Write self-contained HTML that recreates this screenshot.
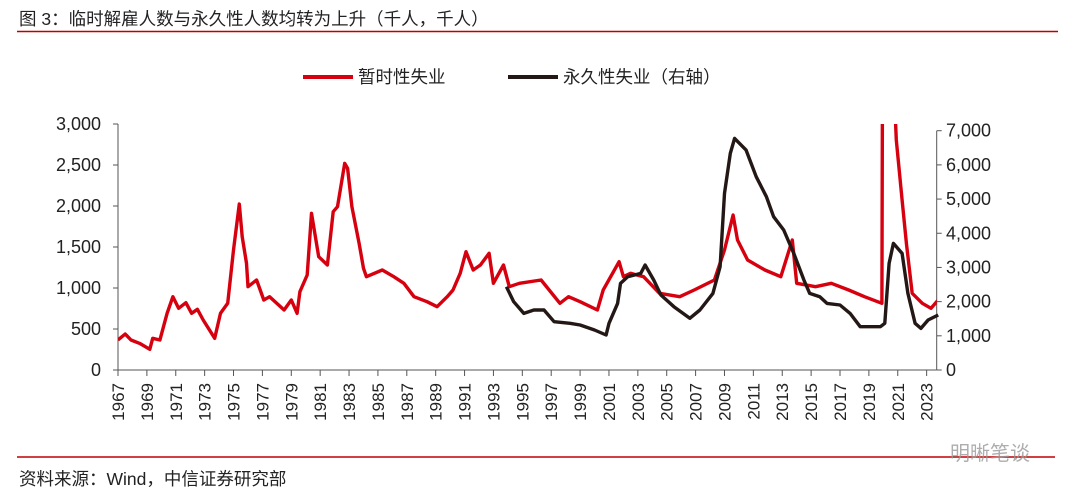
<!DOCTYPE html>
<html><head><meta charset="utf-8">
<style>
body{margin:0;background:#fff;width:1080px;height:496px;overflow:hidden;font-family:"Liberation Sans","Noto Sans CJK SC",sans-serif;}
svg{display:block}
</style></head><body>
<svg id="chart" width="1080" height="496" font-family="Liberation Sans, Noto Sans CJK SC, sans-serif">
<text x="19" y="25" font-size="17.5" fill="#222">图 3：临时解雇人数与永久性人数均转为上升（千人，千人）</text>
<line x1="17" y1="31.5" x2="1058" y2="31.5" stroke="#c00000" stroke-width="1.5"/>
<g>
<g>
<line x1="303" y1="77" x2="353" y2="77" stroke="#d7000f" stroke-width="4"/>
<text x="358" y="83" font-size="17.5" fill="#222">暂时性失业</text></g>
<g>
<line x1="508" y1="77" x2="558" y2="77" stroke="#231815" stroke-width="4"/>
<text x="563" y="83" font-size="17.5" fill="#222">永久性失业（右轴）</text></g>
</g>
<g id="axes"></g>
<g id="series"></g>
<line x1="17" y1="457" x2="1055" y2="457" stroke="#c00000" stroke-width="1.5"/>
<text x="19" y="485" font-size="17.5" fill="#222">资料来源：Wind，中信证券研究部</text>
<text x="950" y="460" font-size="20" fill="#999" opacity="0.8">明晰笔谈</text>
</svg>
<script>
const tempYears=[1967.0,1967.5,1967.9,1968.5,1969.2,1969.4,1969.9,1970.4,1970.8,1971.2,1971.7,1972.1,1972.5,1972.9,1973.7,1974.1,1974.6,1975.0,1975.4,1975.6,1975.9,1976.0,1976.6,1977.1,1977.5,1978.5,1979.0,1979.4,1979.6,1980.1,1980.4,1980.9,1981.5,1981.9,1982.2,1982.7,1982.9,1983.2,1983.7,1984.0,1984.2,1985.3,1986.1,1986.8,1987.5,1988.4,1989.1,1989.8,1990.2,1990.7,1991.1,1991.6,1992.1,1992.7,1993.0,1993.7,1994.1,1994.8,1996.3,1997.6,1998.2,1999.0,2000.2,2000.6,2001.7,2002.0,2002.5,2003.4,2004.5,2005.9,2006.9,2008.3,2009.0,2009.6,2009.9,2010.6,2011.8,2012.9,2013.7,2014.0,2015.3,2016.4,2017.6,2018.7,2019.9,2020.15,2020.3,2020.8,2020.9,2021.3,2021.6,2022.0,2022.7,2023.3,2023.8];
const tempValues=[366,439,366,325,252,386,366,691,894,752,821,691,740,610,386,691,813,1463,2024,1626,1301,1016,1098,854,894,732,854,691,955,1159,1911,1382,1280,1931,1992,2520,2459,1992,1545,1240,1138,1220,1138,1057,894,833,772,894,976,1179,1443,1220,1280,1423,1057,1280,1016,1057,1098,813,894,833,732,976,1321,1138,1179,1138,935,894,976,1098,1463,1890,1585,1341,1220,1138,1585,1057,1016,1057,976,894,813,18000,17000,3200,2805,2073,1545,935,813,752,854];
const permYears=[1993.9,1994.4,1995.1,1995.8,1996.5,1997.2,1998.3,1999.0,2000.0,2000.8,2001.0,2001.6,2001.8,2002.3,2003.2,2003.5,2004.1,2004.6,2005.5,2006.6,2007.3,2008.2,2008.7,2009.0,2009.4,2009.7,2010.5,2011.2,2011.9,2012.4,2013.1,2013.8,2014.5,2014.9,2015.6,2016.1,2017.0,2017.7,2018.4,2019.8,2020.1,2020.4,2020.7,2021.3,2021.7,2022.2,2022.6,2023.1,2023.8];
const permValues=[2437,1998,1657,1754,1754,1413,1365,1316,1170,1023,1365,1949,2534,2729,2827,3070,2632,2193,1852,1511,1754,2242,3021,5166,6335,6774,6433,5653,5068,4483,4094,3411,2632,2242,2144,1949,1901,1657,1267,1267,1365,3119,3704,3411,2242,1365,1218,1462,1608];
const leftTicks=[0,500,1000,1500,2000,2500,3000];
const rightTicks=[0,1000,2000,3000,4000,5000,6000,7000];
const yearLabels=[1967,1969,1971,1973,1975,1977,1979,1981,1983,1985,1987,1989,1991,1993,1995,1997,1999,2001,2003,2005,2007,2009,2011,2013,2015,2017,2019,2021,2023];

const X0=118,X1=936.7,Y0=370,YT=124,YR=130.7;
const xs=y=>X0+(y-1967)*14.44;
const yL=v=>Y0-(v/3000)*(Y0-YT);
const yR=v=>Y0-(v/7000)*(Y0-YR);
const NS="http://www.w3.org/2000/svg";
function mk(tag,attrs,parent){const e=document.createElementNS(NS,tag);for(const k in attrs)e.setAttribute(k,attrs[k]);parent.appendChild(e);return e;}
const axes=document.getElementById('axes'),series=document.getElementById('series');
let la=mk('line',{x1:X0,y1:YT,x2:X0,y2:Y0,stroke:'#555','stroke-width':1},axes);


let ra=mk('line',{x1:X1,y1:YR,x2:X1,y2:Y0,stroke:'#555','stroke-width':1},axes);


let xa=mk('line',{x1:X0,y1:Y0,x2:X1,y2:Y0,stroke:'#555','stroke-width':1},axes);


leftTicks.forEach(v=>{
  const y=yL(v);
  mk('line',{x1:X0-5,y1:y,x2:X0,y2:y,stroke:'#555'},axes);
  const t=mk('text',{x:101,y:y+6,'font-size':18,'text-anchor':'end',fill:'#222'},axes);
  t.textContent=v.toLocaleString('en-US');
  
  
});
rightTicks.forEach(v=>{
  const y=yR(v);
  mk('line',{x1:X1,y1:y,x2:X1+5,y2:y,stroke:'#555'},axes);
  const t=mk('text',{x:946,y:y+6,'font-size':18,fill:'#222'},axes);
  t.textContent=v.toLocaleString('en-US');
  
  
});
yearLabels.forEach(yr=>{
  const x=xs(yr);
  mk('line',{x1:x,y1:Y0,x2:x,y2:Y0+6,stroke:'#555'},axes);
  const t=mk('text',{x:0,y:0,'font-size':17,'text-anchor':'end',fill:'#222',transform:`translate(${x+6},${Y0+13}) rotate(-90)`},axes);
  t.textContent=yr;
  
  
});
mk('clipPath',{id:'clip'},series);
mk('rect',{x:X0,y:YT,width:X1-X0,height:Y0-YT},series.lastChild);
const rp=mk('path',{d:tempYears.map((y,i)=>(i?'L':'M')+xs(y).toFixed(1)+','+yL(tempValues[i]).toFixed(1)).join(''),fill:'none',stroke:'#d7000f','stroke-width':3.4,'stroke-linejoin':'round','clip-path':'url(#clip)'},series);


const bp=mk('path',{d:permYears.map((y,i)=>(i?'L':'M')+xs(y).toFixed(1)+','+yR(permValues[i]).toFixed(1)).join(''),fill:'none',stroke:'#231815','stroke-width':3.4,'stroke-linejoin':'round'},series);


</script>
</body></html>
